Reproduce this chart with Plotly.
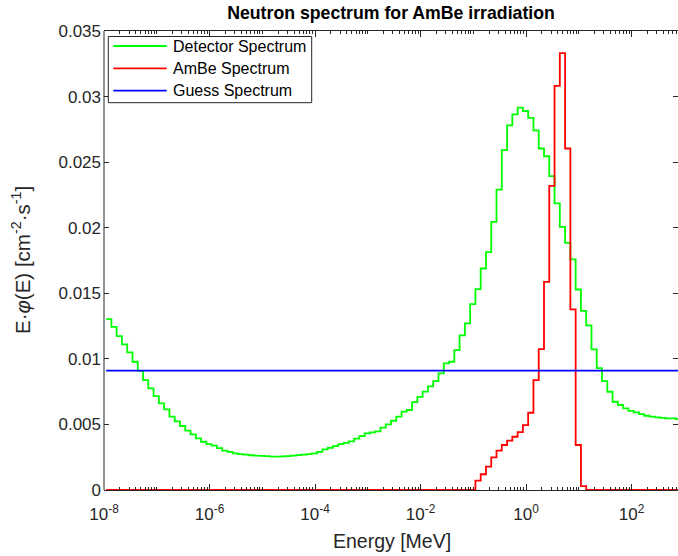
import numpy as np
import plotly.graph_objects as go

# ---- data ----
# energy bin structure: 10 log-equal bins per decade, first edge at 10^-7.96 MeV
first_edge_log10 = -7.96
n_bins = 109
energy_edges = np.logspace(first_edge_log10, first_edge_log10 + n_bins / 10.0, n_bins + 1)

detector_spectrum = [
    0.01303, 0.01244, 0.01173, 0.0111, 0.01049, 0.00978, 0.00909, 0.00838, 0.00775, 0.00716,
    0.0066, 0.00615, 0.00559, 0.00523, 0.00488, 0.00452, 0.00424, 0.00394, 0.00368, 0.0035,
    0.00338, 0.0032, 0.003, 0.0029, 0.0028, 0.00274, 0.0027, 0.00265, 0.00262, 0.0026,
    0.00258, 0.00255, 0.00254, 0.00256, 0.00259, 0.00262, 0.00266, 0.0027, 0.00274, 0.0028,
    0.0029, 0.0031, 0.00322, 0.00335, 0.0035, 0.0036, 0.00371, 0.00391, 0.00411, 0.00432,
    0.0044, 0.00447, 0.00475, 0.005, 0.00528, 0.00559, 0.00597, 0.0061, 0.0067, 0.0071,
    0.0075, 0.0079, 0.0083, 0.00889, 0.00965, 0.00978, 0.01067, 0.01179, 0.0127, 0.01417,
    0.01532, 0.01689, 0.01814, 0.02044, 0.02291, 0.02591, 0.02781, 0.02865, 0.02916, 0.0289,
    0.02837, 0.02743, 0.02604, 0.02545, 0.02393, 0.02185, 0.02006, 0.01885, 0.01758, 0.01529,
    0.01366, 0.01255, 0.01072, 0.0093, 0.0083, 0.00749, 0.00673, 0.00648, 0.00622, 0.00604,
    0.00592, 0.00579, 0.00566, 0.0056, 0.00554, 0.0055, 0.00546, 0.00546, 0.0054,
]

ambe_spectrum = [0.0] * 70 + [
    0.00071, 0.0012, 0.00178, 0.00249, 0.003, 0.00343, 0.00376, 0.00406, 0.00442, 0.00495,
    0.00589, 0.00838, 0.01074, 0.01587, 0.02319, 0.03081, 0.03332, 0.02604, 0.01377, 0.00343,
    0.0003,
] + [0.0] * 18

guess_level = 0.0091

series_names = ["Detector Spectrum", "AmBe Spectrum", "Guess Spectrum"]
series_colors = ["#00ff00", "#ff0000", "#0000ff"]

x_tick_vals = [1e-8, 1e-6, 1e-4, 1e-2, 1e0, 1e2]
x_tick_text = ["10<sup>-8</sup>", "10<sup>-6</sup>", "10<sup>-4</sup>", "10<sup>-2</sup>",
               "10<sup>0</sup>", "10<sup>2</sup>"]
y_tick_vals = [0, 0.005, 0.01, 0.015, 0.02, 0.025, 0.03, 0.035]
y_tick_text = ["0", "0.005", "0.01", "0.015", "0.02", "0.025", "0.03", "0.035"]

# minor ticks: 2..9 x 10^n and the unlabeled decades
minor_vals = []
for n in range(-8, 3):
    for m in range(1, 10):
        v = m * 10.0 ** n
        if m == 1 and v in x_tick_vals:
            continue
        minor_vals.append(v)

FONT = "Liberation Sans, Arial, Helvetica, sans-serif"
AX = "#262626"
W, H = 678, 556
ML, MR, MT, MB = 104, 0, 31, 66
PW, PH = W - ML - MR, H - MT - MB


def px_x(p):  # pixel -> paper x
    return (p - ML) / PW


def px_y(p):  # pixel -> paper y
    return (H - MB - p) / PH


def stairs(vals):
    return list(energy_edges), list(vals) + [vals[-1]]


fig = go.Figure()
xs, ys = stairs(detector_spectrum)
fig.add_trace(go.Scatter(x=xs, y=ys, mode="lines", line=dict(color=series_colors[0], width=1.8, shape="hv"),
                         name=series_names[0]))
xs, ys = stairs(ambe_spectrum)
fig.add_trace(go.Scatter(x=xs, y=ys, mode="lines", line=dict(color=series_colors[1], width=1.8, shape="hv"),
                         name=series_names[1]))
fig.add_trace(go.Scatter(x=[energy_edges[0], energy_edges[-1]], y=[guess_level, guess_level], mode="lines",
                         line=dict(color=series_colors[2], width=1.8), name=series_names[2]))

shapes = []
annotations = []
# left axis line (right one sits just outside the picture in the reference)
shapes.append(dict(type="line", xref="paper", yref="paper", x0=0, x1=0, y0=0, y1=1,
                   line=dict(color=AX, width=1)))
# legend box
shapes.append(dict(type="rect", xref="paper", yref="paper", x0=px_x(108.3), x1=px_x(311.7),
                   y0=px_y(102.7), y1=px_y(36.5), fillcolor="white", line=dict(color=AX, width=1),
                   layer="above"))
row_y = [46.0, 68.3, 90.7]
for name, col, ry in zip(series_names, series_colors, row_y):
    shapes.append(dict(type="line", xref="paper", yref="paper", x0=px_x(113.3), x1=px_x(166.7),
                       y0=px_y(ry), y1=px_y(ry), line=dict(color=col, width=1.8), layer="above"))
    annotations.append(dict(text=name, xref="paper", yref="paper", x=px_x(171.0), y=px_y(ry),
                            xanchor="left", yanchor="middle", showarrow=False,
                            font=dict(family=FONT, size=16, color="black")))

# axis titles
annotations.append(dict(text="Energy [MeV]", xref="paper", yref="paper", x=px_x(392), y=px_y(541),
                        xanchor="center", yanchor="middle", showarrow=False,
                        font=dict(family=FONT, size=19.5, color=AX)))
annotations.append(dict(text="E·<i>φ</i>(E) [cm<sup>-2</sup>·s<sup>-1</sup>]", xref="paper", yref="paper",
                        x=px_x(21), y=px_y(260), xanchor="center", yanchor="middle", textangle=-90,
                        showarrow=False, font=dict(family=FONT, size=20.5, color=AX)))

fig.update_layout(
    width=W, height=H,
    margin=dict(l=ML, r=MR, t=MT, b=MB),
    paper_bgcolor="white", plot_bgcolor="white",
    font=dict(family=FONT, size=17, color=AX),
    title=dict(text="<b>Neutron spectrum for AmBe irradiation</b>", x=0.5, xref="paper",
               y=1 - 12.5 / H, yref="container", yanchor="middle", xanchor="center",
               font=dict(family=FONT, size=17.7, color="black")),
    showlegend=False,
    shapes=shapes,
    annotations=annotations,
    xaxis=dict(type="log", range=[-8, 2.88], tickmode="array", tickvals=x_tick_vals, ticktext=x_tick_text,
               ticks="inside", ticklen=6, tickwidth=1, tickcolor=AX, showline=True, linecolor=AX,
               linewidth=1, mirror="ticks", showgrid=False, zeroline=False, ticklabelstandoff=9,
               tickfont=dict(family=FONT, size=17, color=AX),
               minor=dict(tickmode="array", tickvals=minor_vals, ticks="inside", ticklen=3,
                          tickcolor=AX, tickwidth=1, showgrid=False)),
    yaxis=dict(range=[0, 0.035], tickmode="array", tickvals=y_tick_vals, ticktext=y_tick_text,
               ticks="inside", ticklen=5, tickwidth=1, tickcolor=AX, showline=False,
               mirror="ticks", showgrid=False, zeroline=False, ticklabelstandoff=2,
               tickfont=dict(family=FONT, size=17, color=AX)),
)

fig.write_html("out.html")
